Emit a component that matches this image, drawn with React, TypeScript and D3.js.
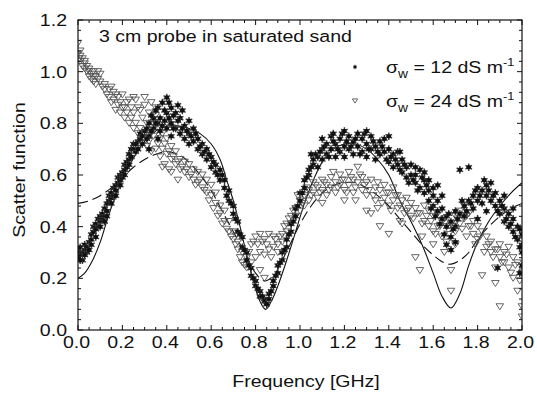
import React from "react";
import * as d3 from "d3";

const xTicks = [0, 0.2, 0.4, 0.6, 0.8, 1.0, 1.2, 1.4, 1.6, 1.8, 2.0];
const yTicks = [0, 0.2, 0.4, 0.6, 0.8, 1.0, 1.2];
const title = "3 cm probe in saturated sand";
const xLabel = "Frequency [GHz]";
const yLabel = "Scatter function";

// measured data, sigma_w = 12 dS/m (filled markers)
const s12: [number, number][] = [
  [0,0.28],[0,0.31],[0.005,0.30],[0.01,0.29],[0.01,0.32],[0.02,0.30],[0.02,0.27],[0.03,0.31],[0.03,0.33],[0.04,0.30],[0.04,0.32],
  [0.05,0.34],[0.05,0.31],[0.06,0.35],[0.06,0.37],[0.07,0.38],[0.07,0.40],[0.08,0.41],[0.08,0.36],[0.09,0.40],[0.09,0.43],
  [0.10,0.42],[0.10,0.44],[0.11,0.43],[0.11,0.45],[0.12,0.47],[0.12,0.44],[0.13,0.49],[0.13,0.46],[0.14,0.50],[0.14,0.52],
  [0.15,0.51],[0.15,0.53],[0.16,0.55],[0.16,0.52],[0.17,0.56],[0.17,0.54],[0.18,0.57],[0.18,0.59],[0.19,0.58],[0.19,0.60],
  [0.20,0.61],[0.20,0.59],[0.21,0.62],[0.21,0.64],[0.22,0.65],[0.22,0.63],[0.23,0.66],[0.23,0.68],[0.24,0.70],[0.24,0.67],
  [0.25,0.70],[0.25,0.72],[0.27,0.73],[0.28,0.74],[0.28,0.76],[0.30,0.77],[0.32,0.80],[0.32,0.75],[0.34,0.82],[0.34,0.78],
  [0.36,0.86],[0.36,0.80],[0.38,0.88],[0.38,0.79],[0.40,0.90],[0.40,0.84],[0.40,0.78],[0.42,0.86],[0.42,0.80],[0.42,0.75],
  [0.44,0.84],[0.44,0.78],[0.46,0.82],[0.46,0.76],[0.48,0.79],[0.48,0.74],[0.50,0.81],[0.50,0.76],[0.50,0.72],[0.52,0.78],
  [0.52,0.73],[0.54,0.74],[0.54,0.70],[0.56,0.72],[0.56,0.68],[0.58,0.70],[0.58,0.66],[0.60,0.67],[0.60,0.63],[0.62,0.64],
  [0.62,0.61],[0.64,0.62],[0.64,0.58],[0.66,0.58],[0.66,0.55],[0.68,0.54],[0.68,0.50],[0.70,0.48],[0.70,0.45],[0.72,0.42],
  [0.72,0.38],[0.74,0.36],[0.74,0.32],[0.76,0.30],[0.76,0.27],[0.78,0.24],[0.78,0.21],[0.80,0.19],[0.80,0.17],[0.82,0.15],
  [0.82,0.13],[0.84,0.12],[0.84,0.11],[0.86,0.12],[0.86,0.14],[0.88,0.17],[0.88,0.19],[0.90,0.22],[0.90,0.25],[0.92,0.27],
  [0.92,0.30],[0.94,0.32],[0.94,0.35],[0.96,0.38],[0.96,0.41],[0.98,0.44],[0.98,0.47],[1.00,0.50],[1.00,0.53],[1.02,0.55],
  [1.02,0.58],[1.04,0.60],[1.04,0.62],[1.06,0.64],[1.06,0.66],[1.08,0.67],[1.08,0.63],[1.10,0.70],[1.10,0.66],[1.12,0.72],
  [1.12,0.68],[1.14,0.75],[1.14,0.70],[1.16,0.72],[1.16,0.67],[1.18,0.74],[1.18,0.69],[1.20,0.71],[1.20,0.67],[1.22,0.75],
  [1.22,0.70],[1.24,0.73],[1.24,0.68],[1.26,0.76],[1.26,0.71],[1.28,0.74],[1.28,0.69],[1.30,0.72],[1.30,0.67],[1.32,0.75],
  [1.32,0.70],[1.34,0.71],[1.34,0.66],[1.36,0.73],[1.36,0.68],[1.38,0.74],[1.38,0.69],[1.40,0.70],[1.40,0.65],[1.42,0.68],
  [1.42,0.63],[1.44,0.69],[1.44,0.64],[1.46,0.66],[1.46,0.61],[1.48,0.63],[1.48,0.59],[1.50,0.64],[1.50,0.60],[1.52,0.60],
  [1.52,0.57],[1.54,0.62],[1.54,0.55],[1.56,0.58],[1.56,0.53],[1.58,0.54],[1.58,0.50],[1.60,0.52],[1.60,0.48],[1.62,0.46],
  [1.62,0.50],[1.64,0.43],[1.64,0.47],[1.66,0.40],[1.66,0.44],[1.68,0.36],[1.68,0.42],[1.70,0.40],[1.70,0.46],[1.72,0.45],
  [1.72,0.62],[1.74,0.48],[1.74,0.44],[1.76,0.50],[1.76,0.63],[1.78,0.52],[1.78,0.47],[1.80,0.55],[1.80,0.50],[1.82,0.54],
  [1.82,0.49],[1.84,0.56],[1.84,0.52],[1.86,0.57],[1.86,0.50],[1.88,0.53],[1.88,0.48],[1.89,0.24],[1.90,0.50],[1.90,0.45],
  [1.92,0.47],[1.92,0.42],[1.94,0.45],[1.94,0.40],[1.96,0.43],[1.96,0.38],[1.98,0.40],[1.98,0.35],[1.99,0.22],[2.00,0.33],
  [2.00,0.37],[2.00,0.30],[2.00,0.25],
  [0.01,0.27],[0.03,0.29],[0.06,0.33],[0.08,0.39],[0.10,0.40],[0.12,0.42],[0.13,0.44],[0.15,0.49],[0.17,0.52],[0.19,0.56],
  [0.21,0.60],[0.23,0.64],[0.26,0.69],[0.26,0.72],[0.27,0.70],[0.29,0.75],[0.29,0.72],[0.31,0.78],[0.31,0.74],[0.33,0.77],
  [0.33,0.83],[0.35,0.80],[0.35,0.85],[0.37,0.82],[0.37,0.77],[0.39,0.85],[0.39,0.81],[0.41,0.88],[0.41,0.82],[0.43,0.83],
  [0.43,0.78],[0.45,0.81],[0.47,0.78],[0.49,0.77],[0.51,0.75],[0.53,0.76],[0.55,0.71],[0.57,0.69],[0.59,0.68],[0.61,0.65],
  [0.63,0.60],[0.65,0.60],[0.67,0.52],[0.69,0.49],[0.71,0.43],[0.73,0.37],[0.75,0.31],[0.77,0.25],[0.79,0.20],[0.81,0.16],
  [0.83,0.13],[0.85,0.10],[0.87,0.15],[0.89,0.21],[0.91,0.26],[0.93,0.31],[0.95,0.37],[0.97,0.42],[0.99,0.48],[1.01,0.53],
  [1.03,0.59],[1.05,0.63],[1.07,0.68],[1.09,0.69],[1.11,0.71],[1.13,0.67],[1.15,0.73],[1.17,0.70],[1.19,0.76],[1.21,0.73],
  [1.23,0.71],[1.25,0.74],[1.27,0.68],[1.29,0.76],[1.31,0.70],[1.33,0.73],[1.35,0.69],[1.37,0.71],[1.39,0.66],[1.41,0.67],
  [1.43,0.66],[1.45,0.62],[1.47,0.64],[1.49,0.57],[1.51,0.58],[1.53,0.54],[1.55,0.59],[1.57,0.56],[1.59,0.47],[1.61,0.44],
  [1.63,0.41],[1.65,0.37],[1.67,0.45],[1.69,0.39],[1.71,0.43],[1.73,0.50],[1.75,0.46],[1.77,0.49],[1.79,0.54],[1.81,0.52],
  [1.83,0.58],[1.85,0.54],[1.87,0.52],[1.89,0.46],[1.91,0.48],[1.93,0.43],[1.95,0.41],[1.97,0.36],[1.99,0.32],[1.99,0.39],
  [1.56,0.61],[1.58,0.58],[1.60,0.55],[1.62,0.56],[1.64,0.52],[1.66,0.33],[1.68,0.31],[1.70,0.34],[1.10,0.74],[1.15,0.76],
  [1.20,0.77],[1.30,0.77],[1.40,0.75],[1.45,0.69],[1.05,0.68],[0.45,0.87],[0.47,0.85],[0.36,0.74],[0.32,0.70],[1.52,0.63],
  [1.80,0.43],[1.84,0.46],[1.92,0.52],[1.96,0.47]
];

// measured data, sigma_w = 24 dS/m (open triangles)
const s24: [number, number][] = [
  [0,1.11],[0,1.07],[0.005,1.05],[0.01,1.06],[0.01,1.04],[0.02,1.05],[0.02,1.02],[0.03,1.03],[0.03,1.01],[0.04,1.02],[0.04,1.00],
  [0.05,1.01],[0.05,0.98],[0.06,0.99],[0.06,0.97],[0.07,1.00],[0.07,0.96],[0.08,0.98],[0.08,0.95],[0.10,0.99],[0.10,0.96],
  [0.12,0.95],[0.12,0.93],[0.14,0.93],[0.14,0.90],[0.16,0.92],[0.16,0.89],[0.18,0.90],[0.18,0.87],[0.20,0.91],[0.20,0.86],
  [0.22,0.88],[0.22,0.84],[0.24,0.86],[0.24,0.82],[0.26,0.89],[0.26,0.80],[0.28,0.85],[0.28,0.78],[0.30,0.87],[0.30,0.76],
  [0.32,0.84],[0.32,0.73],[0.33,0.88],[0.34,0.80],[0.34,0.75],[0.36,0.78],[0.36,0.72],[0.38,0.76],[0.38,0.70],[0.40,0.74],
  [0.40,0.68],[0.42,0.71],[0.42,0.66],[0.44,0.69],[0.44,0.64],[0.46,0.66],[0.46,0.62],[0.48,0.65],[0.48,0.61],[0.50,0.64],
  [0.50,0.59],[0.52,0.62],[0.52,0.58],[0.54,0.61],[0.54,0.57],[0.56,0.60],[0.56,0.55],[0.58,0.58],[0.58,0.53],[0.60,0.56],
  [0.60,0.52],[0.62,0.53],[0.62,0.49],[0.64,0.48],[0.64,0.45],[0.66,0.46],[0.66,0.42],[0.68,0.42],[0.68,0.38],[0.70,0.38],
  [0.70,0.35],[0.72,0.34],[0.72,0.31],[0.74,0.30],[0.74,0.26],[0.76,0.28],[0.76,0.24],[0.78,0.33],[0.78,0.26],[0.80,0.36],
  [0.80,0.28],[0.82,0.37],[0.82,0.30],[0.82,0.23],[0.84,0.35],[0.84,0.29],[0.84,0.20],[0.86,0.37],[0.86,0.31],[0.88,0.36],
  [0.88,0.32],[0.90,0.33],[0.90,0.30],[0.92,0.37],[0.92,0.34],[0.94,0.41],[0.94,0.38],[0.96,0.44],[0.96,0.41],[0.98,0.47],
  [0.98,0.44],[1.00,0.50],[1.00,0.46],[1.02,0.52],[1.02,0.48],[1.04,0.54],[1.04,0.50],[1.06,0.57],[1.06,0.53],[1.08,0.55],
  [1.08,0.51],[1.10,0.58],[1.10,0.54],[1.12,0.56],[1.12,0.52],[1.14,0.59],[1.14,0.55],[1.16,0.57],[1.16,0.53],[1.18,0.60],
  [1.18,0.56],[1.20,0.58],[1.20,0.54],[1.22,0.61],[1.22,0.56],[1.24,0.58],[1.24,0.53],[1.26,0.63],[1.26,0.57],[1.28,0.59],
  [1.28,0.54],[1.30,0.57],[1.30,0.52],[1.30,0.46],[1.32,0.58],[1.32,0.45],[1.34,0.55],[1.34,0.50],[1.36,0.54],[1.36,0.40],
  [1.38,0.56],[1.38,0.51],[1.40,0.53],[1.40,0.48],[1.40,0.37],[1.42,0.55],[1.42,0.50],[1.44,0.52],[1.44,0.47],[1.46,0.50],
  [1.46,0.41],[1.48,0.51],[1.48,0.46],[1.50,0.49],[1.50,0.44],[1.52,0.47],[1.52,0.28],[1.54,0.45],[1.54,0.23],[1.56,0.48],
  [1.56,0.42],[1.58,0.46],[1.58,0.40],[1.60,0.44],[1.60,0.38],[1.62,0.45],[1.62,0.40],[1.64,0.42],[1.64,0.36],[1.66,0.40],
  [1.66,0.34],[1.68,0.41],[1.68,0.23],[1.68,0.15],[1.70,0.44],[1.70,0.38],[1.72,0.46],[1.72,0.41],[1.74,0.48],[1.74,0.43],
  [1.76,0.45],[1.76,0.40],[1.78,0.42],[1.78,0.37],[1.80,0.40],[1.80,0.35],[1.82,0.38],[1.82,0.21],[1.84,0.36],[1.84,0.32],
  [1.86,0.34],[1.86,0.30],[1.88,0.31],[1.88,0.24],[1.88,0.18],[1.90,0.33],[1.90,0.28],[1.90,0.09],[1.92,0.30],[1.92,0.26],
  [1.94,0.32],[1.94,0.24],[1.96,0.28],[1.96,0.20],[1.98,0.26],[1.98,0.15],[2.00,0.22],[2.00,0.09],[2.00,0.05],
  [0.01,1.08],[0.03,1.04],[0.05,1.00],[0.07,0.98],[0.09,0.97],[0.09,1.00],[0.11,0.94],[0.13,0.91],[0.15,0.94],[0.15,0.88],
  [0.17,0.91],[0.17,0.85],[0.19,0.88],[0.19,0.84],[0.21,0.86],[0.21,0.82],[0.23,0.89],[0.23,0.80],[0.25,0.84],[0.25,0.78],
  [0.27,0.86],[0.27,0.76],[0.29,0.82],[0.29,0.74],[0.31,0.80],[0.31,0.71],[0.33,0.77],[0.33,0.69],[0.35,0.86],[0.35,0.70],
  [0.37,0.74],[0.37,0.67],[0.39,0.72],[0.39,0.64],[0.41,0.69],[0.41,0.62],[0.43,0.67],[0.45,0.65],[0.47,0.63],[0.49,0.62],
  [0.51,0.60],[0.53,0.56],[0.55,0.58],[0.57,0.54],[0.59,0.50],[0.61,0.47],[0.63,0.44],[0.65,0.41],[0.67,0.39],[0.69,0.36],
  [0.71,0.33],[0.73,0.28],[0.75,0.25],[0.77,0.30],[0.79,0.34],[0.81,0.33],[0.83,0.34],[0.85,0.33],[0.87,0.28],[0.89,0.35],
  [0.91,0.36],[0.93,0.40],[0.95,0.43],[0.97,0.46],[0.99,0.52],[1.01,0.49],[1.03,0.55],[1.05,0.52],[1.07,0.56],[1.09,0.53],
  [1.11,0.57],[1.13,0.54],[1.15,0.61],[1.17,0.55],[1.19,0.58],[1.21,0.53],[1.23,0.59],[1.25,0.55],[1.27,0.60],[1.29,0.56],
  [1.31,0.54],[1.33,0.52],[1.35,0.57],[1.37,0.49],[1.39,0.53],[1.41,0.46],[1.43,0.52],[1.45,0.48],[1.47,0.45],[1.49,0.47],
  [1.51,0.43],[1.53,0.45],[1.55,0.41],[1.57,0.44],[1.59,0.42],[1.61,0.37],[1.63,0.40],[1.65,0.43],[1.67,0.37],[1.69,0.40],
  [1.71,0.43],[1.73,0.39],[1.75,0.44],[1.77,0.40],[1.79,0.33],[1.81,0.36],[1.83,0.30],[1.85,0.33],[1.87,0.28],[1.89,0.31],
  [1.91,0.26],[1.93,0.29],[1.95,0.22],[1.97,0.25],[1.99,0.19],
  [1.10,0.49],[1.20,0.50],[1.25,0.50],[1.35,0.47],[1.45,0.42],[1.55,0.36],[1.60,0.33],[1.65,0.30],[1.70,0.33],[1.75,0.36],
  [0.25,0.90],[0.30,0.90],[0.35,0.83],[0.40,0.80],[0.42,0.61],[0.45,0.58],[0.38,0.63]
];

// model curves
const model12: [number, number][] = [
  [0,0.20],[0.03,0.22],[0.06,0.26],[0.1,0.34],[0.14,0.45],[0.18,0.54],[0.22,0.62],[0.26,0.68],[0.3,0.73],[0.35,0.77],
  [0.4,0.79],[0.45,0.79],[0.5,0.78],[0.55,0.76],[0.6,0.72],[0.64,0.66],[0.67,0.58],[0.7,0.50],[0.73,0.40],[0.76,0.29],
  [0.79,0.19],[0.82,0.11],[0.845,0.08],[0.87,0.11],[0.9,0.17],[0.94,0.27],[0.98,0.38],[1.02,0.49],[1.06,0.58],[1.1,0.65],
  [1.15,0.70],[1.2,0.72],[1.25,0.72],[1.3,0.70],[1.35,0.66],[1.4,0.60],[1.45,0.50],[1.5,0.42],[1.55,0.33],[1.6,0.22],
  [1.64,0.13],[1.68,0.085],[1.72,0.14],[1.76,0.25],[1.8,0.34],[1.85,0.42],[1.9,0.48],[1.95,0.53],[2.0,0.57]
];
const model24: [number, number][] = [
  [0,0.49],[0.05,0.50],[0.1,0.52],[0.15,0.55],[0.2,0.59],[0.25,0.63],[0.3,0.66],[0.35,0.68],[0.4,0.69],[0.45,0.68],
  [0.5,0.65],[0.55,0.60],[0.6,0.54],[0.65,0.46],[0.7,0.38],[0.75,0.30],[0.8,0.22],[0.84,0.19],[0.88,0.21],[0.92,0.27],
  [0.96,0.34],[1.0,0.41],[1.05,0.48],[1.1,0.53],[1.15,0.56],[1.2,0.57],[1.25,0.57],[1.3,0.55],[1.35,0.52],[1.4,0.48],
  [1.45,0.43],[1.5,0.38],[1.55,0.33],[1.6,0.29],[1.65,0.26],[1.68,0.255],[1.72,0.27],[1.76,0.30],[1.8,0.35],[1.85,0.40],
  [1.9,0.44],[1.95,0.47],[2.0,0.49]
];

const W = 537, H = 394;
const L = 78, R = 522, T = 20, B = 330;
const FONT = "'Liberation Sans', Arial, sans-serif";
const FS = 17;
const SX = 1.15;

function Txt({ x, y, anchor = "start", children, fs = FS }: any) {
  return (
    <g transform={`translate(${x},${y}) scale(${SX},1)`}>
      <text textAnchor={anchor} fontFamily={FONT} fontSize={fs} fill="#111">{children}</text>
    </g>
  );
}

function Tri({ cx, cy, s = 1 }: { cx: number; cy: number; s?: number }) {
  const w = 3.8 * s, h = 6 * s;
  return (
    <path d={`M${cx - w},${cy - h / 2}L${cx + w},${cy - h / 2}L${cx},${cy + h / 2}Z`} fill="none" stroke="#555" strokeWidth={0.9} />
  );
}

const starPath = d3.symbol(d3.symbolAsterisk, 40)() as string;
function Star({ cx, cy, s = 1 }: { cx: number; cy: number; s?: number }) {
  return (
    <g transform={`translate(${cx},${cy}) scale(${s})`}>
      <path d={starPath} stroke="#3a3a3a" strokeWidth={1.4} fill="none" />
      <circle r={2.3} fill="#111" />
    </g>
  );
}

export default function App() {
  const x = d3.scaleLinear().domain([0, 2]).range([L, R]);
  const y = d3.scaleLinear().domain([0, 1.2]).range([B, T]);
  const line = d3.line<[number, number]>().x(d => x(d[0])).y(d => y(d[1])).curve(d3.curveCatmullRom.alpha(0.5));

  const xMinor = d3.range(0, 2.0001, 0.05);
  const yMinor = d3.range(0, 1.2001, 0.04);

  return (
    <svg width={W} height={H} style={{ position: "absolute", left: 0, top: 0, background: "#fff" }}>
      <rect x={0} y={0} width={W} height={H} fill="#fff" />
      <defs>
        <clipPath id="plot"><rect x={L} y={T} width={R - L} height={B - T} /></clipPath>
      </defs>
      <g clipPath="url(#plot)">
        <path d={line(model12) as string} fill="none" stroke="#111" strokeWidth={1.1} />
        <path d={line(model24) as string} fill="none" stroke="#111" strokeWidth={1.1} strokeDasharray="10,5" />
        {s24.map((d, i) => <Tri key={"t" + i} cx={x(d[0])} cy={y(d[1])} />)}
        {s12.map((d, i) => <Star key={"s" + i} cx={x(d[0])} cy={y(d[1])} />)}
      </g>
      {xMinor.map((v, i) => {
        const major = i % 4 === 0;
        const len = major ? 5 : 3;
        return (
          <g key={"xm" + i}>
            <line x1={x(v)} x2={x(v)} y1={B} y2={B - len} stroke="#111" strokeWidth={1} />
            <line x1={x(v)} x2={x(v)} y1={T} y2={T + len} stroke="#111" strokeWidth={1} />
          </g>
        );
      })}
      {yMinor.map((v, i) => {
        const major = i % 5 === 0;
        const len = major ? 5 : 3;
        return (
          <g key={"ym" + i}>
            <line x1={L} x2={L + len} y1={y(v)} y2={y(v)} stroke="#111" strokeWidth={1} />
            <line x1={R} x2={R - len} y1={y(v)} y2={y(v)} stroke="#111" strokeWidth={1} />
          </g>
        );
      })}
      <rect x={L} y={T} width={R - L} height={B - T} fill="none" stroke="#111" strokeWidth={1.2} />
      {xTicks.map((v, i) => (
        <Txt key={"xl" + i} x={x(v) - 1.5} y={348} anchor="middle">{v.toFixed(1)}</Txt>
      ))}
      {yTicks.map((v, i) => (
        <Txt key={"yl" + i} x={67} y={y(v) + 6} anchor="end">{v.toFixed(1)}</Txt>
      ))}
      <Txt x={306} y={387} anchor="middle">{xLabel}</Txt>
      <g transform={`translate(25,170) rotate(-90) scale(${SX},1)`}>
        <text textAnchor="middle" fontFamily={FONT} fontSize={FS} fill="#111">{yLabel}</text>
      </g>
      <Txt x={99} y={42}>{title}</Txt>
      <g transform="translate(355,67) scale(0.6)"><Star cx={0} cy={0} /></g>
      <Tri cx={355} cy={101} s={0.7} />
      <Txt x={386} y={73}>
        <tspan>σ</tspan><tspan dy={5} fontSize={12}>w</tspan><tspan dy={-5}> = 12 dS m</tspan><tspan dy={-7} fontSize={11}>-1</tspan>
      </Txt>
      <Txt x={386} y={107}>
        <tspan>σ</tspan><tspan dy={5} fontSize={12}>w</tspan><tspan dy={-5}> = 24 dS m</tspan><tspan dy={-7} fontSize={11}>-1</tspan>
      </Txt>
    </svg>
  );
}
